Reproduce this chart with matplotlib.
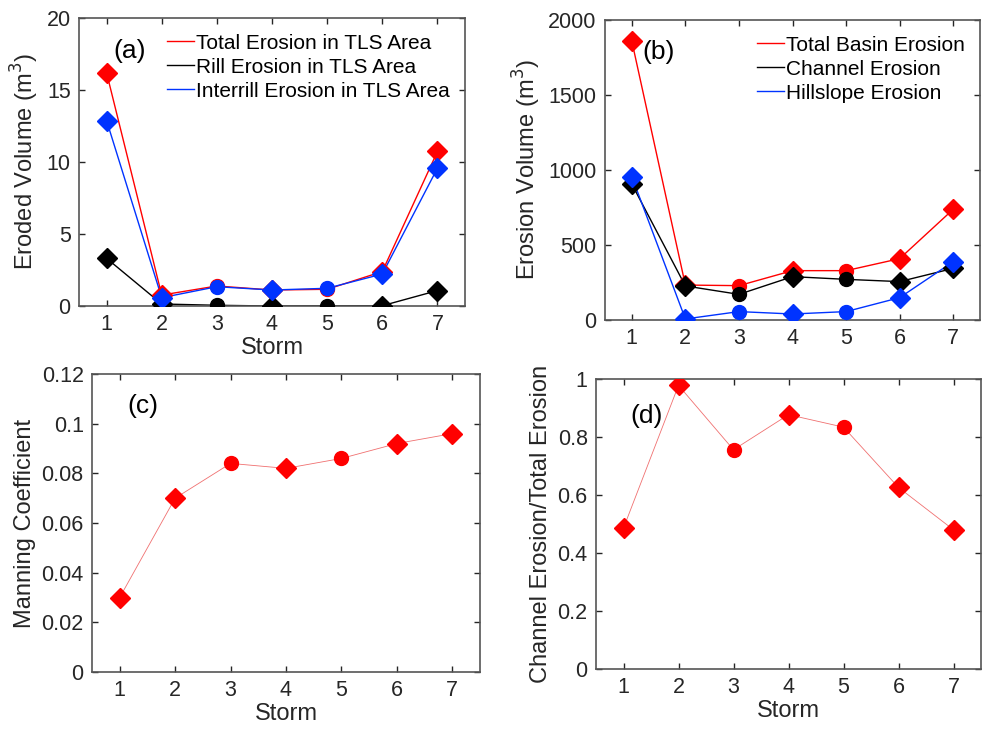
import matplotlib.pyplot as plt

plt.rcParams['font.family'] = ['Liberation Sans', 'DejaVu Sans']

storm = [1, 2, 3, 4, 5, 6, 7]
# storms 3 and 5 are drawn with circles, the rest with diamonds
circle_storms = [3, 5]

# (a) TLS area
tls_total = [16.2, 0.76, 1.39, 1.11, 1.16, 2.39, 10.73]
tls_rill = [3.31, 0.14, 0.05, 0.0, 0.01, 0.02, 1.07]
tls_interrill = [12.88, 0.58, 1.34, 1.11, 1.23, 2.22, 9.57]

# (b) basin
basin_total = [1860, 233, 229, 329, 329, 409, 738]
basin_channel = [907, 227, 171, 289, 271, 256, 344]
basin_hillslope = [956, 7, 56, 40, 56, 149, 389]

# (c) manning
manning = [0.030, 0.070, 0.084, 0.082, 0.086, 0.092, 0.096]

# (d) ratio
ratio = [0.486, 0.978, 0.756, 0.877, 0.834, 0.626, 0.480]

red = '#ff0000'
blue = '#0033ff'
black = 'black'
txt = '#262626'


def series(ax, y, color, label=None, lw=1.0, lcolor=None):
    ax.plot(storm, y, color=lcolor or color, lw=lw, label=label, zorder=2)
    xd = [s for s in storm if s not in circle_storms]
    yd = [v for s, v in zip(storm, y) if s not in circle_storms]
    xc = [s for s in storm if s in circle_storms]
    yc = [v for s, v in zip(storm, y) if s in circle_storms]
    ax.plot(xd, yd, 'D', color=color, ms=10, mec=color, zorder=3)
    ax.plot(xc, yc, 'o', color=color, ms=10, mec=color, zorder=3)


def style(ax):
    ax.set_xlim(0.5, 7.5)
    ax.set_xticks(storm)
    ax.tick_params(direction='in', top=True, right=True, labelsize=15.5,
                   colors=txt, length=4, width=1, pad=6)
    for sp in ax.spines.values():
        sp.set_color('#555555')
        sp.set_linewidth(1.2)


def leg(ax):
    ax.legend(loc='upper right', frameon=False, fontsize=15, handlelength=1.3,
              handletextpad=0.08, labelspacing=0.24, borderaxespad=0.35)


fig = plt.figure(figsize=(9.82, 7.32), dpi=100)
W, H = 982, 732


def axes_px(l, t, r, b):
    return fig.add_axes([l / W, 1 - b / H, (r - l) / W, (b - t) / H])


ax1 = axes_px(79, 18, 465, 306)
series(ax1, tls_total, red, 'Total Erosion in TLS Area')
series(ax1, tls_rill, black, 'Rill Erosion in TLS Area')
series(ax1, tls_interrill, blue, 'Interrill Erosion in TLS Area')
style(ax1)
ax1.set_ylim(0, 20)
ax1.set_yticks([0, 5, 10, 15, 20])
ax1.set_ylabel('Eroded Volume (m$^3$)', fontsize=17, color=txt)
ax1.set_xlabel('Storm', fontsize=17, color=txt, labelpad=1)
ax1.text(0.09, 0.86, '(a)', transform=ax1.transAxes, fontsize=19)
leg(ax1)

ax2 = axes_px(605, 20, 980, 320)
series(ax2, basin_total, red, 'Total Basin Erosion')
series(ax2, basin_channel, black, 'Channel Erosion')
series(ax2, basin_hillslope, blue, 'Hillslope Erosion')
style(ax2)
ax2.set_ylim(0, 2000)
ax2.set_yticks([0, 500, 1000, 1500, 2000])
ax2.set_ylabel('Erosion Volume (m$^3$)', fontsize=17, color=txt)
ax2.text(0.1, 0.87, '(b)', transform=ax2.transAxes, fontsize=19)
leg(ax2)

ax3 = axes_px(92, 374, 480, 672)
series(ax3, manning, red, lw=0.6, lcolor='#f07070')
style(ax3)
ax3.set_ylim(0, 0.12)
ax3.set_yticks([0, 0.02, 0.04, 0.06, 0.08, 0.1, 0.12])
ax3.set_yticklabels(['0', '0.02', '0.04', '0.06', '0.08', '0.1', '0.12'])
ax3.set_ylabel('Manning Coefficient', fontsize=17, color=txt)
ax3.set_xlabel('Storm', fontsize=17, color=txt, labelpad=1)
ax3.text(0.09, 0.87, '(c)', transform=ax3.transAxes, fontsize=19)

ax4 = axes_px(596, 379, 981, 669)
series(ax4, ratio, red, lw=0.6, lcolor='#f07070')
style(ax4)
ax4.set_ylim(0, 1)
ax4.set_yticks([0, 0.2, 0.4, 0.6, 0.8, 1])
ax4.set_yticklabels(['0', '0.2', '0.4', '0.6', '0.8', '1'])
ax4.set_ylabel('Channel Erosion/Total Erosion', fontsize=17, color=txt)
ax4.set_xlabel('Storm', fontsize=17, color=txt, labelpad=1)
ax4.text(0.09, 0.85, '(d)', transform=ax4.transAxes, fontsize=19)

fig.savefig('out.png', dpi=100)
